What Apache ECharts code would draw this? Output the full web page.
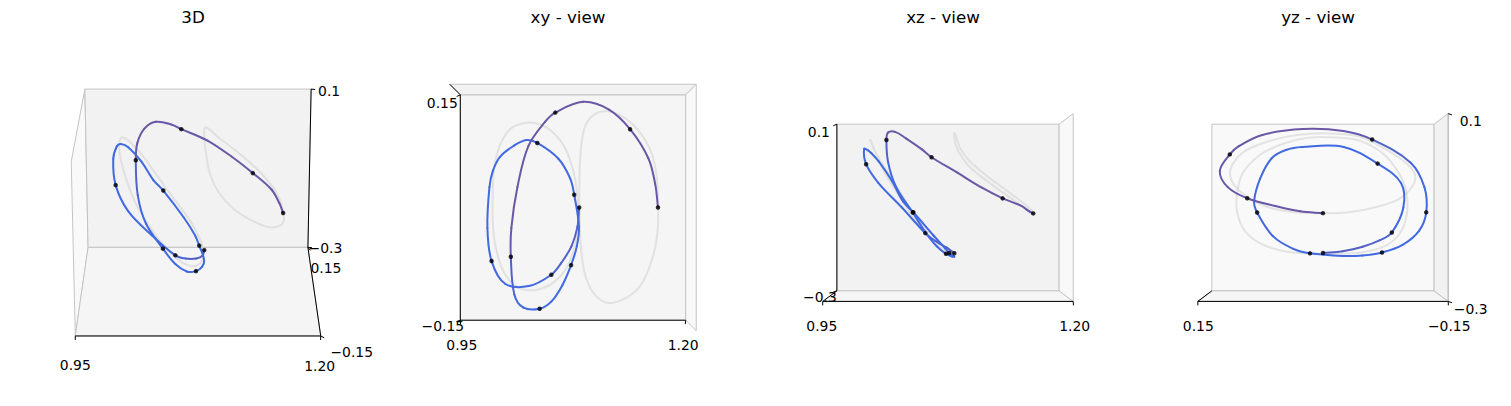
<!DOCTYPE html>
<html><head><meta charset="utf-8">
<script src="https://cdn.jsdelivr.net/npm/echarts@6/dist/echarts.min.js"></script>
<style>html,body{margin:0;padding:0;background:#fff}#c{width:1511px;height:406px}</style>
</head><body><div id="c"></div>
<script>
// ---------------- data ----------------
const panelTitles = ['3D', 'xy - view', 'xz - view', 'yz - view'];
const xLim = [0.95, 1.20], yLim = [-0.15, 0.15], zLim = [-0.3, 0.1];
const xTickValues = [0.95, 1.20], xTickLabels = ['0.95', '1.20'];
const yTickValues = [0.15, -0.15], yTickLabels = ['0.15', '\u22120.15'];
const zTickValues = [0.1, -0.3], zTickLabels = ['0.1', '\u22120.3'];

// transfer trajectory (read from the four views)
const trajX = [1.0817,1.0798,1.0733,1.0620,1.0517,1.0280,1.0038,0.9904,0.9868,0.9889,0.9923,0.9994,1.0135,1.0259,1.0370,1.0593,1.0719,1.0763,1.0815,1.0792,1.0729,1.0635,1.0519,1.0395,1.0225,1.0141,1.0112,1.0120,1.0183,1.0294,1.0462,1.0567,1.0855,1.1128,1.1353,1.1548,1.1624,1.1655];
const trajY = [0.0000,-0.0252,-0.0504,-0.0723,-0.0867,-0.1001,-0.0960,-0.0668,-0.0252,0.0252,0.0454,0.0630,0.0779,0.0857,0.0824,0.0630,0.0378,0.0166,-0.0252,-0.0504,-0.0751,-0.1008,-0.1210,-0.1293,-0.1260,-0.1084,-0.0607,-0.0252,0.0252,0.0756,0.1058,0.1177,0.1321,0.1235,0.0993,0.0630,0.0302,0.0000];
const trajZ = [-0.2035,-0.1995,-0.1887,-0.1735,-0.1560,-0.1000,-0.0462,-0.0046,0.0313,0.0313,0.0250,0.0075,-0.0373,-0.0866,-0.1112,-0.1650,-0.1936,-0.2039,-0.2102,-0.2089,-0.2017,-0.1842,-0.1524,-0.1108,-0.0552,-0.0014,0.0492,0.0680,0.0729,0.0608,0.0371,0.0192,-0.0171,-0.0530,-0.0785,-0.0964,-0.1090,-0.1134];
// colour weight along the trajectory (0 = blue, 1 = purple)
const trajPurple = [0.45,0.5,0.5,0.35,0.1,0,0,0,0,0,0,0,0,0,0,0,0,0,0,0,0,0,0,0,0,0,0.7,1,1,1,1,1,1,1,1,1,1,1];
// markers along the trajectory (indices into the arrays above)
const dotIndex = [0, 4, 7, 14, 17, 20, 23, 26, 31, 34, 37];

// left reference orbit
const orbitLX = [1.0261,1.0110,0.9996,0.9939,0.9927,0.9927,0.9950,1.0013,1.0110,1.0227,1.0380,1.0538,1.0682,1.0772,1.0808,1.0797,1.0753,1.0663,1.0521,1.0380];
const orbitLY = [0.1074,0.0998,0.0779,0.0489,0.0159,-0.0169,-0.0456,-0.0748,-0.0943,-0.1036,-0.1048,-0.0970,-0.0784,-0.0484,-0.0179,0.0169,0.0474,0.0774,0.0983,0.1069];
const orbitLZ = [-0.0776,-0.0265,0.0142,0.0389,0.0523,0.0523,0.0452,0.0165,-0.0265,-0.0659,-0.1152,-0.1578,-0.1874,-0.2022,-0.2053,-0.2044,-0.1995,-0.1829,-0.1529,-0.1152];
// right reference orbit
const orbitRX = [1.1657,1.1642,1.1596,1.1512,1.1384,1.1243,1.1101,1.0979,1.0884,1.0840,1.0819,1.0815,1.0819,1.0832,1.0874,1.0960,1.1101,1.1277,1.1458,1.1584,1.1647];
const orbitRY = [0.0000,0.0378,0.0653,0.0864,0.1048,0.1162,0.1205,0.1167,0.1028,0.0819,0.0489,0.0159,-0.0169,-0.0496,-0.0829,-0.1061,-0.1192,-0.1159,-0.0998,-0.0683,-0.0345];
const orbitRZ = [-0.1134,-0.1112,-0.1031,-0.0888,-0.0686,-0.0471,-0.0238,-0.0014,0.0254,0.0434,0.0599,0.0676,0.0676,0.0599,0.0299,0.0030,-0.0247,-0.0530,-0.0803,-0.1000,-0.1112];

// ---------------- projection (matplotlib-like perspective) ----------------
const S = 1978, CY = 207.5, PH = 406, PW = 375, DIST = 10;
const ASPECT = (function () { const a = [4, 4, 3]; const n = Math.hypot(a[0], a[1], a[2]); const k = 1.8294640721620434 * 25 / 24 / n; return a.map(v => v * k); })();
const LIMS = { x: xLim, y: yLim, z: zLim };
function makeProjector(elev, azim) {
  const e = elev * Math.PI / 180, a = azim * Math.PI / 180;
  const w = [Math.cos(e) * Math.cos(a), Math.cos(e) * Math.sin(a), Math.sin(e)];
  let u = [-w[1], w[0], 0];
  const un = Math.hypot(u[0], u[1], u[2]); u = u.map(c => c / un);
  const v = [w[1] * u[2] - w[2] * u[1], w[2] * u[0] - w[0] * u[2], w[0] * u[1] - w[1] * u[0]];
  return function (x, y, z) {
    const P = [
      (x - (xLim[0] + xLim[1]) / 2) / (xLim[1] - xLim[0]) * ASPECT[0],
      (y - (yLim[0] + yLim[1]) / 2) / (yLim[1] - yLim[0]) * ASPECT[1],
      (z - (zLim[0] + zLim[1]) / 2) / (zLim[1] - zLim[0]) * ASPECT[2]];
    const d = DIST - (w[0] * P[0] + w[1] * P[1] + w[2] * P[2]);
    return [(u[0] * P[0] + u[1] * P[1] + u[2] * P[2]) / d, (v[0] * P[0] + v[1] * P[1] + v[2] * P[2]) / d];
  };
}

// per-tick label offsets in px: [dx, dy] for each tick value
const views = [
  { elev: 20, azim: -90, cx: 198, titleX: 193,
    panes: [['x', 0], ['y', 1], ['z', 0]],
    axisEdges: [['x', { y: 0, z: 0 }, '#000'], ['y', { x: 1, z: 0 }, '#000'], ['z', { x: 1, y: 1 }, '#000']],
    tickSets: [['x', { y: 0, z: 0 }, [[0, 29], [-1, 30]]], ['y', { x: 1, z: 0 }, [[18, 21], [31, 16]]], ['z', { x: 1, y: 1 }, [[18, 2], [17.5, 1]]]] },
  { elev: 90, azim: -90, cx: 573, titleX: 568,
    panes: [['z', 0], ['y', 1], ['x', 1]],
    axisEdges: [['x', { y: 0, z: 0 }, '#000'], ['y', { x: 0, z: 0 }, '#000'], ['z', { x: 0, y: 1 }, '#000']],
    tickSets: [['x', { y: 0, z: 0 }, [[1.5, 25], [-2.5, 25]]], ['y', { x: 0, z: 0 }, [[-18, 8.5], [-17.5, 6]]]] },
  { elev: 0, azim: -90, cx: 948, titleX: 943,
    panes: [['y', 1], ['z', 0], ['x', 1]],
    axisEdges: [['x', { y: 0, z: 0 }, '#000'], ['y', { x: 0, z: 0 }, '#000'], ['z', { x: 0, y: 1 }, '#000']],
    tickSets: [['x', { y: 0, z: 0 }, [[-1, 25], [1.5, 25]]], ['z', { x: 0, y: 1 }, [[-18, 8], [-17, 6]]]] },
  { elev: 0, azim: 180, cx: 1323, titleX: 1318,
    panes: [['x', 1], ['z', 0], ['y', 0]],
    axisEdges: [['y', { x: 0, z: 0 }, '#000'], ['x', { y: 1, z: 0 }, '#000'], ['z', { x: 0, y: 0 }, '#b8b8b8']],
    tickSets: [['y', { x: 0, z: 0 }, [[0.5, 25], [1, 25]]], ['z', { x: 0, y: 0 }, [[22.5, 7.5], [22.5, 8]]]] }
];
views.forEach(v => { v.proj = makeProjector(v.elev, v.azim); });

const TICKS = { x: [xTickValues, xTickLabels], y: [yTickValues, yTickLabels], z: [zTickValues, zTickLabels] };
const PANE_FILL = { x: '#f9f9f9', y: '#f2f2f2', z: '#f5f5f5' };
const PANE_EDGE = '#c4c4c4';
const BLUE = [65, 105, 225], PURPLE = [106, 87, 166], GRAY = '#d3d3d3';
const FONT = '"DejaVu Sans", "Liberation Sans", sans-serif';
const SMOOTH = 0.36;

function edgePoint(axis, at, val) {
  const p = { x: null, y: null, z: null };
  p[axis] = val;
  ['x', 'y', 'z'].forEach(k => { if (k !== axis) p[k] = LIMS[k][at[k]]; });
  return [p.x, p.y, p.z];
}
function paneCorners(axis, k) {
  const others = ['x', 'y', 'z'].filter(a => a !== axis);
  const combos = [[0, 0], [1, 0], [1, 1], [0, 1]];
  return combos.map(([i, j]) => {
    const p = {}; p[axis] = LIMS[axis][k]; p[others[0]] = LIMS[others[0]][i]; p[others[1]] = LIMS[others[1]][j];
    return [p.x, p.y, p.z];
  });
}
// cubic bezier pieces through pixel points (same rule as zrender's smoothBezier)
function bezierPieces(pts, smooth, closed) {
  const n = pts.length, cps = [];
  for (let i = 0; i < n; i++) {
    let prev, next;
    if (closed) { prev = pts[(i - 1 + n) % n]; next = pts[(i + 1) % n]; }
    else { prev = pts[Math.max(i - 1, 0)]; next = pts[Math.min(i + 1, n - 1)]; }
    const vx = (next[0] - prev[0]) * smooth, vy = (next[1] - prev[1]) * smooth;
    let d0 = Math.hypot(pts[i][0] - prev[0], pts[i][1] - prev[1]);
    let d1 = Math.hypot(next[0] - pts[i][0], next[1] - pts[i][1]);
    const s = d0 + d1; if (s) { d0 /= s; d1 /= s; }
    cps.push([[pts[i][0] - vx * d0, pts[i][1] - vy * d0], [pts[i][0] + vx * d1, pts[i][1] + vy * d1]]);
  }
  const out = [];
  for (let i = 0; i < (closed ? n : n - 1); i++) {
    const j = (i + 1) % n;
    out.push([pts[i], cps[i][1], cps[j][0], pts[j]]);
  }
  return out;
}
function mix(t) {
  const c = BLUE.map((b, k) => Math.round(b + (PURPLE[k] - b) * t));
  return 'rgb(' + c.join(',') + ')';
}

const grids = [], xAxes = [], yAxes = [], series = [];
views.forEach((view, vi) => {
  grids.push({ left: view.cx - PW / 2, top: 0, width: PW, height: PH });
  xAxes.push({ type: 'value', gridIndex: vi, min: -PW / 2 / S, max: PW / 2 / S, show: false });
  yAxes.push({ type: 'value', gridIndex: vi, min: -(PH - CY) / S, max: CY / S, show: false });

  // box panes, axis lines, ticks, labels, title
  series.push({
    type: 'custom', xAxisIndex: vi, yAxisIndex: vi, z: 0, silent: true, data: [[0, 0]],
    renderItem: function (params, api) {
      const kids = [];
      const P = p => api.coord(view.proj(p[0], p[1], p[2]));
      view.panes.forEach(([ax, k]) => {
        kids.push({ type: 'polygon', shape: { points: paneCorners(ax, k).map(P) },
          style: { fill: PANE_FILL[ax], stroke: PANE_EDGE, lineWidth: 1 } });
      });
      view.axisEdges.forEach(([ax, at, col]) => {
        const a = P(edgePoint(ax, at, LIMS[ax][0])), b = P(edgePoint(ax, at, LIMS[ax][1]));
        kids.push({ type: 'line', shape: { x1: a[0], y1: a[1], x2: b[0], y2: b[1] }, style: { stroke: col, lineWidth: 1 } });
      });
      view.tickSets.forEach(([ax, at, offs]) => {
        const [vals, labs] = TICKS[ax];
        vals.forEach((val, ti) => {
          const off = offs[ti];
          const len = Math.hypot(off[0], off[1]);
          const a = P(edgePoint(ax, at, val));
          kids.push({ type: 'line', shape: { x1: a[0], y1: a[1], x2: a[0] + off[0] / len * 4, y2: a[1] + off[1] / len * 4 },
            style: { stroke: '#000', lineWidth: 1 } });
          kids.push({ type: 'text', x: a[0] + off[0], y: a[1] + off[1],
            style: { text: labs[ti], fill: '#000', font: '13.9px ' + FONT, textAlign: 'center', textVerticalAlign: 'middle', align: 'center', verticalAlign: 'middle' } });
        });
      });
      kids.push({ type: 'text', x: view.titleX, y: 17,
        style: { text: panelTitles[vi], fill: '#000', font: '16.7px ' + FONT, textAlign: 'center', textVerticalAlign: 'middle', align: 'center', verticalAlign: 'middle' } });
      return { type: 'group', children: kids };
    }
  });

  // curves: reference orbits (gray) and trajectory (blue -> purple)
  series.push({
    type: 'custom', xAxisIndex: vi, yAxisIndex: vi, z: 2, silent: true, data: [[0, 0]],
    renderItem: function (params, api) {
      const kids = [];
      const toPx = (X, Y, Z) => X.map((_, i) => api.coord(view.proj(X[i], Y[i], Z[i])));
      [toPx(orbitLX, orbitLY, orbitLZ), toPx(orbitRX, orbitRY, orbitRZ)].forEach(pts => {
        let d = 'M' + pts[0][0] + ' ' + pts[0][1];
        bezierPieces(pts, SMOOTH, true).forEach(b => { d += ' C' + b[1].join(' ') + ' ' + b[2].join(' ') + ' ' + b[3].join(' '); });
        kids.push({ type: 'path', shape: { pathData: d + ' Z' }, style: { fill: 'none', stroke: GRAY, lineWidth: 2, opacity: 0.6 } });
      });
      const traj = toPx(trajX, trajY, trajZ);
      bezierPieces(traj, SMOOTH, false).forEach((b, i) => {
        kids.push({ type: 'bezierCurve',
          shape: { x1: b[0][0], y1: b[0][1], cpx1: b[1][0], cpy1: b[1][1], cpx2: b[2][0], cpy2: b[2][1], x2: b[3][0], y2: b[3][1] },
          style: { fill: 'none', stroke: mix((trajPurple[i] + trajPurple[i + 1]) / 2), lineWidth: 2, lineCap: 'round' } });
      });
      return { type: 'group', children: kids };
    }
  });

  series.push({ type: 'scatter', xAxisIndex: vi, yAxisIndex: vi, silent: true, z: 4, symbolSize: 4.5,
    data: dotIndex.map(i => view.proj(trajX[i], trajY[i], trajZ[i])), itemStyle: { color: '#000' } });
});

const chart = echarts.init(document.getElementById('c'), null, { renderer: 'svg' });
chart.setOption({ animation: false, backgroundColor: '#fff', grid: grids, xAxis: xAxes, yAxis: yAxes, series: series });
</script></body></html>
